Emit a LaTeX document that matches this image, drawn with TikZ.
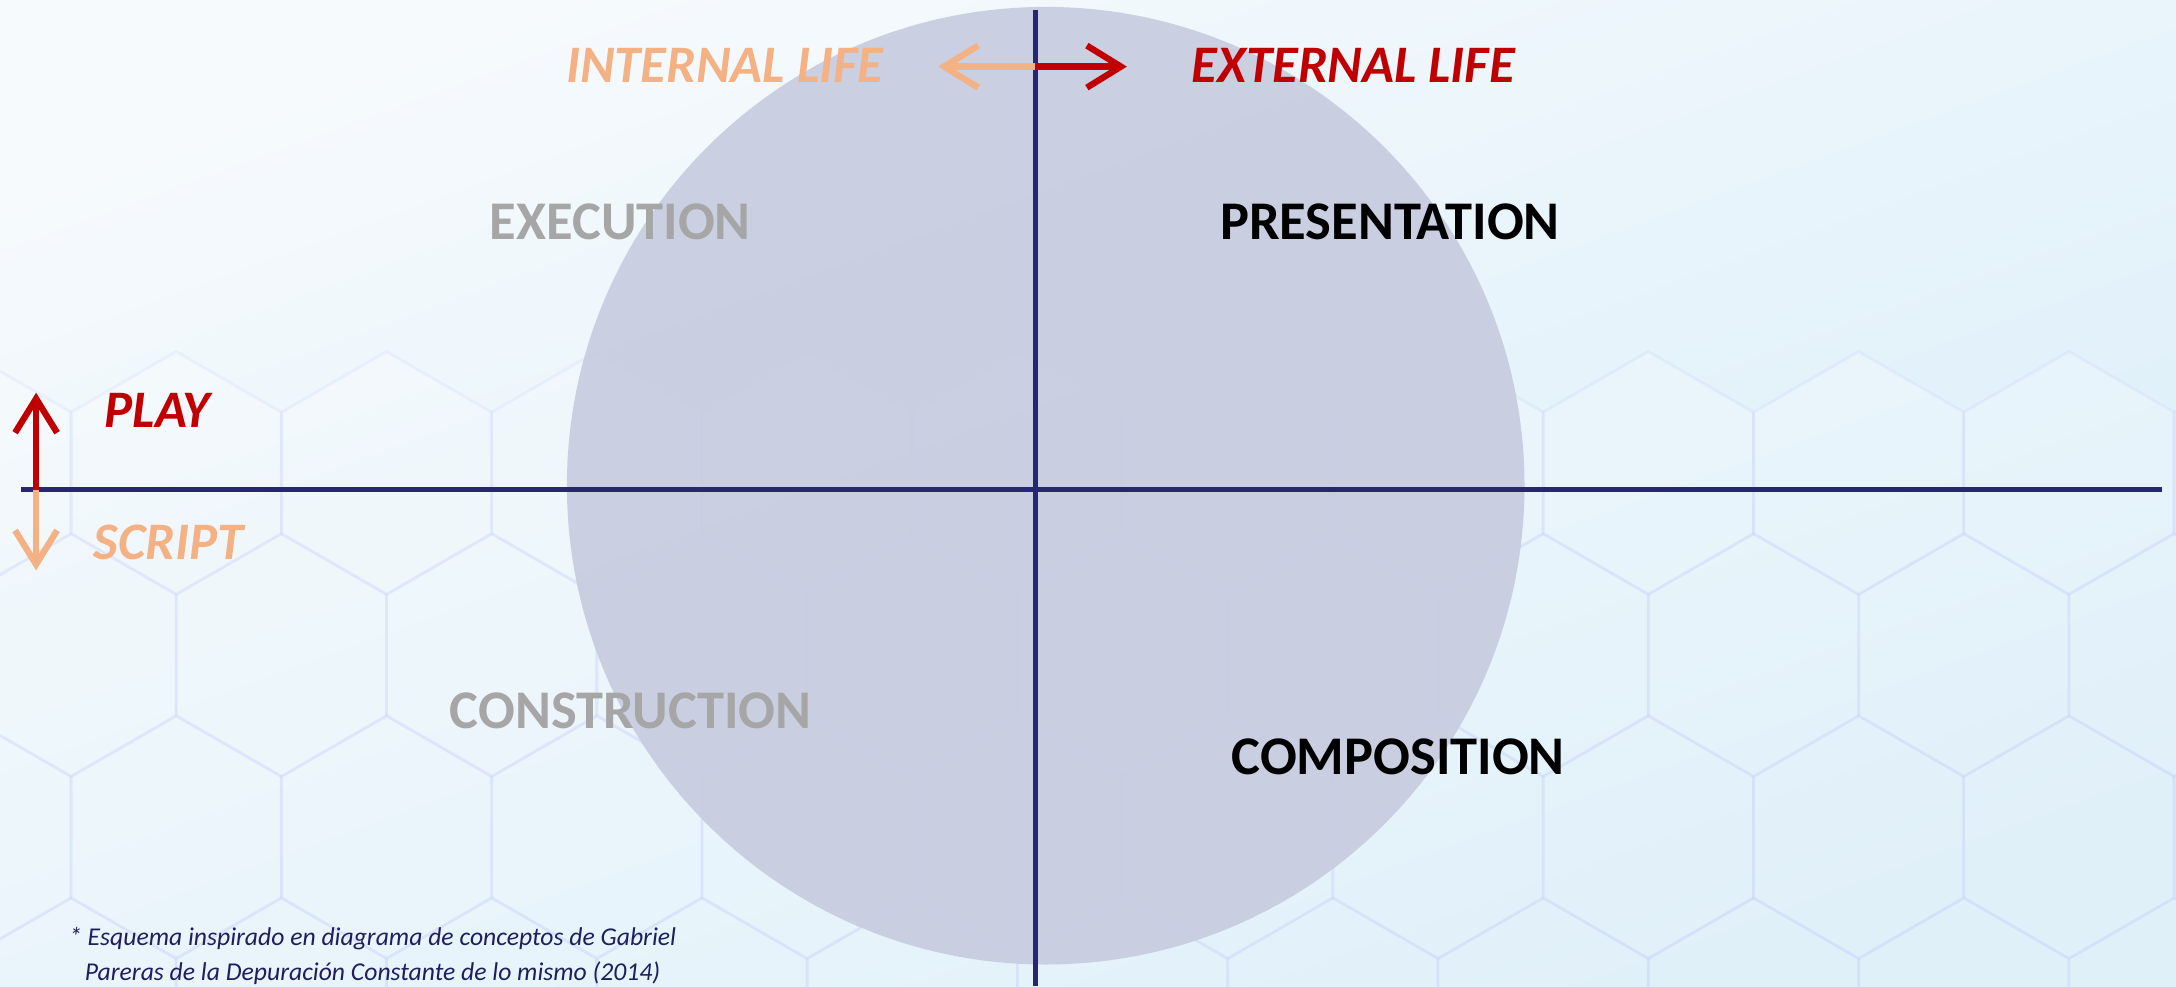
\documentclass[tikz,border=0pt]{standalone}
\usepackage{fontspec}
\setmainfont{Carlito}
\usetikzlibrary{arrows.meta}
\usetikzlibrary{positioning}
\usetikzlibrary{calc}

\definecolor{axisblue}{HTML}{262673}
\definecolor{lifeorange}{HTML}{F4B183}
\definecolor{lifered}{HTML}{C00000}
\definecolor{quadgray}{HTML}{A6A6A6}
\definecolor{discfill}{HTML}{C8CCE0}
\definecolor{notenavy}{HTML}{1F1F5E}
\definecolor{bgtop}{HTML}{F6FAFD}
\definecolor{bgbottom}{HTML}{D8EDF8}

\begin{document}
\begin{tikzpicture}
	\tikzset{axis/.style = {draw=axisblue, line width=1.4pt},
		pointer/.style = {line width=1.8pt, -{Straight Barb[length=0.34cm,width=0.42cm]}},
		quadrant/.style = {font=\fontsize{15.5}{18}\selectfont\bfseries, inner sep=0pt},
		pole/.style = {font=\fontsize{15}{18}\selectfont\bfseries\itshape, inner sep=0pt},
		hexcell/.style = {fill=white, fill opacity=0.22, draw=bgbottom!60!blue!70, draw opacity=0.12, line width=0.8pt}}
	\useasboundingbox (0,0) rectangle (21.76,9.86);
	
	% background
	\shade[top color=bgtop, bottom color=bgbottom, shading angle=20] (0,0) rectangle (21.76,9.86);
	\clip (0,0) rectangle (21.76,9.86);
	\foreach \row in {-2,...,1} {
		\foreach \col in {-10,...,1} {
			\pgfmathsetmacro{\cx}{19.638 + \col*2.103 + mod(abs(\row),2)*1.0515}
			\pgfmathsetmacro{\cy}{3.310 + \row*1.821}
			\path[hexcell] (\cx,\cy) +(90:1.214) -- +(150:1.214) -- +(210:1.214)
				-- +(270:1.214) -- +(330:1.214) -- +(30:1.214) -- cycle;
		}
	}
	
	% disc and axes
	\fill[discfill, fill opacity=0.93] (10.457,5.003) circle (4.788);
	\coordinate (O) at (10.353,4.961);
	\coordinate (WEST) at (0.208,4.961);
	\coordinate (EAST) at (21.62,4.961);
	\coordinate (NORTH) at (10.353,9.763);
	\coordinate (SOUTH) at (10.353,0);
	\draw[axis] (WEST) -- (EAST);
	\draw[axis] (NORTH) -- (SOUTH);
	
	% internal / external life
	\coordinate (HMID) at (10.353,9.194);
	\coordinate (HLEFT) at (9.382,9.194);
	\coordinate (HRIGHT) at (11.269,9.194);
	\draw[pointer, lifeorange] (HMID) -- (HLEFT);
	\draw[pointer, lifered] (HMID) -- (HRIGHT);
	\node[pole, text=lifeorange, anchor=east] (INTERNAL) at (8.84,9.208) {INTERNAL LIFE};
	\node[pole, text=lifered, anchor=west] (EXTERNAL) at (11.907,9.208) {EXTERNAL LIFE};
	
	% play / script
	\coordinate (VMID) at (0.361,4.961);
	\coordinate (VUP) at (0.361,5.933);
	\coordinate (VDOWN) at (0.361,4.156);
	\draw[pointer, lifered] (VMID) -- (VUP);
	\draw[pointer, lifeorange] (VMID) -- (VDOWN);
	\node[pole, text=lifered, anchor=west] (PLAY) at (1.041,5.752) {PLAY};
	\node[pole, text=lifeorange, anchor=west] (SCRIPT) at (0.930,4.434) {SCRIPT};
	
	% quadrants
	\node[quadrant, text=quadgray] (EXECUTION) at (6.203,7.639) {EXECUTION};
	\node[quadrant, text=black] (PRESENTATION) at (13.899,7.639) {PRESENTATION};
	\node[quadrant, text=quadgray] (CONSTRUCTION) at (6.308,2.754) {CONSTRUCTION};
	\node[quadrant, text=black] (COMPOSITION) at (13.982,2.296) {COMPOSITION};
	
	\node[font=\fontsize{7.3}{9.9}\selectfont\itshape, text=notenavy, align=center, inner sep=0pt] (NOTE) at (3.726,0.30)
	{* Esquema inspirado en diagrama de conceptos de Gabriel \\
		Pareras de la Depuración Constante de lo mismo (2014)};
	
\end{tikzpicture}
\end{document}
